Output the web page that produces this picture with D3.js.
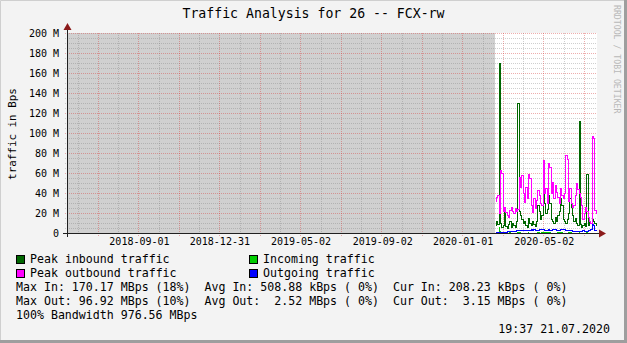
<!DOCTYPE html>
<html>
<head>
<meta charset="utf-8">
<script src="https://cdn.jsdelivr.net/npm/d3@7"></script>
<style>
body { margin: 0; background: #f3f3f3; }
svg { display: block; font-family: "DejaVu Sans Mono", monospace; }
text { white-space: pre; }
</style>
</head>
<body>
<svg id="chart" width="627" height="343"></svg>
<script>
// samples: one every 2 days starting at sampleStart (values in MBps)
const sampleStart = '2020-02-19';
const sampleStepDays = 2;
const peakIn = [8, 12, 9, 170, 10, 6, 8, 25, 7, 5,
    9, 12, 6, 10, 8, 6, 12, 130, 22, 18,
    14, 10, 12, 8, 6, 15, 10, 8, 12, 9,
    7, 12, 28, 22, 14, 18, 43, 30, 20, 24,
    38, 30, 14, 12, 10, 16, 12, 18, 22, 35,
    28, 14, 12, 10, 14, 20, 35, 26, 18, 12,
    15, 10, 8, 112, 9, 6, 8, 10, 7, 59,
    8, 12, 10, 14, 12, 10, 8];
const incoming = [0.3, 0.5, 0.4, 6, 2, 0.6, 0.4, 0.8, 0.4, 0.3,
    0.5, 0.6, 0.3, 0.4, 0.5, 0.3, 0.4, 1.5, 0.8, 0.6,
    0.5, 0.4, 0.5, 0.3, 0.3, 0.6, 0.4, 0.3, 0.5, 0.4,
    0.3, 0.5, 0.9, 0.7, 0.5, 0.6, 1.2, 0.8, 0.6, 0.7,
    1.0, 0.8, 0.5, 0.4, 0.4, 0.5, 0.4, 0.6, 0.7, 0.9,
    0.8, 0.5, 0.4, 0.4, 0.5, 0.6, 0.9, 0.7, 0.5, 0.4,
    0.5, 0.3, 0.3, 1.5, 0.3, 0.2, 0.3, 0.4, 0.3, 0.9,
    0.3, 0.4, 0.3, 0.4, 0.3, 0.3, 0.2];
const peakOut = [32, 36, 38, 20, 63, 60, 22, 26, 21, 18,
    16, 23, 26, 22, 20, 25, 22, 24, 56, 46,
    58, 40, 31, 46, 35, 59, 55, 28, 21, 35,
    25, 33, 43, 38, 30, 28, 73, 40, 45, 30,
    70, 66, 40, 51, 35, 48, 41, 36, 30, 45,
    38, 35, 40, 78, 74, 32, 45, 30, 26, 28,
    38, 50, 44, 40, 36, 28, 14, 20, 26, 22,
    16, 12, 10, 97, 95, 23, 20];
const outgoing = [1, 1, 1, 1, 1.1, 1.2, 1.4, 1.3, 1.5, 1.6,
    1.8, 2, 2.1, 2.2, 2, 2.4, 2.6, 3, 3.2, 3,
    2.8, 3, 3.2, 3.5, 3.3, 3, 3.4, 3.6, 3.4, 3.8,
    3.5, 3.2, 3.4, 3.6, 4, 3.8, 3.6, 3.5, 3.2, 3.4,
    3.6, 3.3, 3.5, 3.8, 4, 3.7, 3.5, 3.2, 3.4, 3.6,
    3.8, 4.2, 3.9, 3.5, 3.2, 3, 2.8, 2.6, 2.4, 2.2,
    2.5, 2.3, 2.2, 2, 2.1, 2.4, 2.6, 2.5, 2.3, 2.4,
    2.6, 3, 4, 9, 8, 3.5, 3.2];

const timeStart = '2018-05-16 12:00';
const timeEnd = '2020-07-21 19:37';
const yMax = 200;
const yTicks = [0, 20, 40, 60, 80, 100, 120, 140, 160, 180, 200];
const yTickLabels = ['0', '20 M', '40 M', '60 M', '80 M', '100 M', '120 M', '140 M', '160 M', '180 M', '200 M'];
const xLabels = ['2018-09-01', '2018-12-31', '2019-05-02', '2019-09-02', '2020-01-01', '2020-05-02'];

const title = 'Traffic Analysis for 26 -- FCX-rw';
const yTitle = 'traffic in Bps';
const legendItems = [
    {name: 'Peak inbound traffic', color: '#006600'},
    {name: 'Incoming traffic', color: '#00cc00'},
    {name: 'Peak outbound traffic', color: '#ff00ff'},
    {name: 'Outgoing traffic', color: '#0000ff'}
];
const statLines = [
    'Max In: 170.17 MBps (18%)  Avg In: 508.88 kBps ( 0%)  Cur In: 208.23 kBps ( 0%)',
    'Max Out: 96.92 MBps (10%)  Avg Out:  2.52 MBps ( 0%)  Cur Out:  3.15 MBps ( 0%)',
    '100% Bandwidth 976.56 MBps'
];
const stamp = '19:37 21.07.2020';

const W = 627, H = 343;
const pL = 67, pR = 597, pT = 33, pB = 233;
const svg = d3.select('#chart');

const parseDay = d3.timeParse('%Y-%m-%d');
const parseMin = d3.timeParse('%Y-%m-%d %H:%M');
const x = d3.scaleTime().domain([parseMin(timeStart), parseMin(timeEnd)]).range([pL, pR]);
const y = d3.scaleLinear().domain([0, yMax]).range([pB, pT]);
const px = v => Math.round(v) + 0.5;

// background + frame
svg.append('rect').attr('width', W).attr('height', H).attr('fill', '#f3f3f3');
svg.append('path').attr('d', `M0.5,${H}V0.5H${W}`).attr('fill', 'none').attr('stroke', '#cfcfcf');
svg.append('path').attr('d', `M0,${H - 1.5}H${W - 1.5}V0`).attr('fill', 'none')
    .attr('stroke', '#9e9e9e').attr('stroke-width', 3);

svg.append('clipPath').attr('id', 'canvas-clip').append('rect')
    .attr('x', pL).attr('y', pT - 1).attr('width', pR - pL).attr('height', pB - pT + 1);

// canvas
svg.append('rect').attr('x', pL).attr('y', pT).attr('width', pR - pL).attr('height', pB - pT)
    .attr('fill', '#ffffff');

// unknown data region
const t0 = parseDay(sampleStart);
svg.append('rect').attr('x', pL).attr('y', pT)
    .attr('width', Math.round(x(t0)) - pL).attr('height', pB - pT)
    .attr('fill', '#d0d0d0');

// grid
const grid = svg.append('g').attr('shape-rendering', 'crispEdges').attr('stroke-dasharray', '1,1');
const labelDates = xLabels.map(parseDay);
const step = (labelDates[labelDates.length - 1] - labelDates[0]) / (labelDates.length - 1);
const dom = x.domain();
const minorT = [], majorT = [];
for (let k = -20; k <= 40; k++) {
    const t = new Date(+labelDates[0] + k * step / 4);
    if (t < dom[0] || t > dom[1]) continue;
    if (k % 2 === 0) majorT.push(t); else minorT.push(t);
}
const yMinor = d3.range(0, yMax + 0.1, 5).filter(v => v % 20 !== 0);
const minorColor = 'rgba(130,130,130,0.38)', majorColor = 'rgba(215,60,60,0.42)';

grid.selectAll('line.hmin').data(yMinor).enter().append('line')
    .attr('x1', pL - 2).attr('x2', pR).attr('y1', d => px(y(d))).attr('y2', d => px(y(d)))
    .attr('stroke', minorColor);
grid.selectAll('line.vmin').data(minorT).enter().append('line')
    .attr('x1', d => px(x(d))).attr('x2', d => px(x(d))).attr('y1', pT).attr('y2', pB + 2)
    .attr('stroke', minorColor);
grid.selectAll('line.hmaj').data(yTicks.slice(1)).enter().append('line')
    .attr('x1', pL - 2).attr('x2', pR).attr('y1', d => px(y(d))).attr('y2', d => px(y(d)))
    .attr('stroke', majorColor);
grid.selectAll('line.vmaj').data(majorT).enter().append('line')
    .attr('x1', d => px(x(d))).attr('x2', d => px(x(d))).attr('y1', pT).attr('y2', pB + 3)
    .attr('stroke', majorColor);

// data
const times = peakIn.map((v, i) => d3.timeDay.offset(t0, i * sampleStepDays));
const tEnd = d3.timeDay.offset(t0, peakIn.length * sampleStepDays);
const pts = vals => vals.map((v, i) => [Math.round(x(times[i])), v])
    .concat([[Math.round(x(tEnd)), vals[vals.length - 1]]]);
const line = d3.line().x(d => d[0] + 0.5).y(d => px(y(d[1]))).curve(d3.curveStepAfter);
const area = d3.area().x(d => d[0]).y0(y(0)).y1(d => Math.round(y(d[1]))).curve(d3.curveStepAfter);

const plot = svg.append('g').attr('clip-path', 'url(#canvas-clip)').attr('shape-rendering', 'crispEdges');
plot.append('path').attr('d', line(pts(peakIn))).attr('fill', 'none').attr('stroke', legendItems[0].color);
plot.append('path').attr('d', area(pts(incoming))).attr('fill', legendItems[1].color);
plot.append('path').attr('d', line(pts(peakOut))).attr('fill', 'none').attr('stroke', legendItems[2].color);
plot.append('path').attr('d', line(pts(outgoing))).attr('fill', 'none').attr('stroke', legendItems[3].color);

// axes
const axes = svg.append('g').attr('shape-rendering', 'crispEdges');
axes.append('line').attr('x1', pL - 4).attr('x2', pR + 4).attr('y1', pB + 0.5).attr('y2', pB + 0.5)
    .attr('stroke', '#202020');
axes.append('line').attr('x1', pL + 0.5).attr('x2', pL + 0.5).attr('y1', pB + 4).attr('y2', pT - 4)
    .attr('stroke', '#202020');
svg.append('path').attr('d', `M${pR + 2},${pB - 3.5}L${pR + 9},${pB + 0.5}L${pR + 2},${pB + 4.5}Z`)
    .attr('fill', '#8b1a1a');
svg.append('path').attr('d', `M${pL - 3.5},${pT - 3}L${pL + 0.5},${pT - 10}L${pL + 4.5},${pT - 3}Z`)
    .attr('fill', '#8b1a1a');

// y tick labels
svg.append('g').selectAll('text').data(yTicks).enter().append('text')
    .attr('x', 59).attr('y', d => y(d) + 4)
    .attr('text-anchor', 'end').attr('font-size', 10).attr('fill', '#000')
    .text((d, i) => yTickLabels[i]);

// x tick labels
svg.append('g').selectAll('text').data(labelDates).enter().append('text')
    .attr('x', d => x(d) + 1).attr('y', 245)
    .attr('text-anchor', 'middle').attr('font-size', 10).attr('fill', '#000')
    .text((d, i) => xLabels[i]);

// titles
svg.append('text').attr('x', W / 2).attr('y', 18).attr('text-anchor', 'middle')
    .attr('font-size', 13.2).attr('fill', '#000').text(title);
svg.append('text').attr('transform', 'translate(16,134) rotate(-90)').attr('text-anchor', 'middle')
    .attr('font-size', 10.9).attr('fill', '#000').text(yTitle);
svg.append('text').attr('transform', 'translate(614,5) rotate(90)')
    .attr('font-size', 8.2).attr('fill', '#b8b8b8').text('RRDTOOL / TOBI OETIKER');

// legend
const leg = svg.append('g').selectAll('g').data(legendItems).enter().append('g')
    .attr('transform', (d, i) => `translate(${i % 2 ? 249 : 16},${255 + Math.floor(i / 2) * 14})`);
leg.append('rect').attr('x', 0.5).attr('y', 0.5).attr('width', 8).attr('height', 8)
    .attr('fill', d => d.color).attr('stroke', '#000').attr('shape-rendering', 'crispEdges');
leg.append('text').attr('x', 14).attr('y', 8).attr('font-size', 11.6).attr('fill', '#000').text(d => d.name);

svg.append('g').selectAll('text').data(statLines).enter().append('text')
    .attr('x', 16).attr('y', (d, i) => 291 + i * 14)
    .attr('font-size', 11.6).attr('fill', '#000').text(d => d);
svg.append('text').attr('x', 610).attr('y', 333).attr('text-anchor', 'end')
    .attr('font-size', 11.6).attr('fill', '#000').text(stamp);
</script>
</body>
</html>
